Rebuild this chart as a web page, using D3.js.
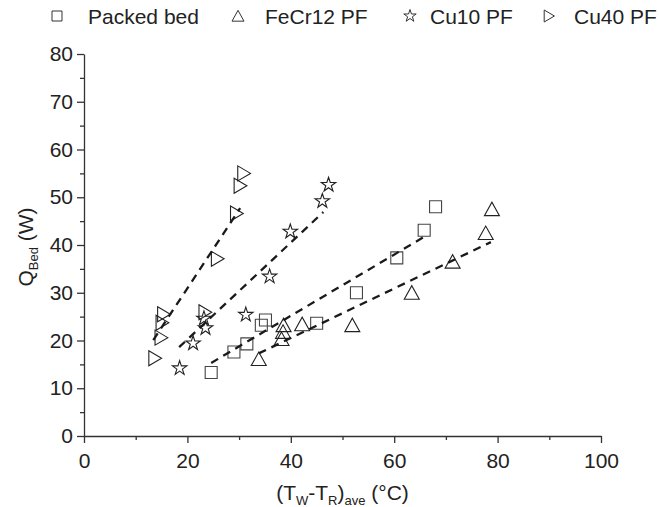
<!DOCTYPE html>
<html>
<head>
<meta charset="utf-8">
<script src="https://cdn.jsdelivr.net/npm/d3@7"></script>
<style>
  body { margin: 0; background: #fff; }
  text { font-family: "Liberation Sans", Arial, sans-serif; fill: #222; }
</style>
</head>
<body>
<div id="chart"></div>
<script>
// data
var packedX = [24.6, 29.0, 31.5, 34.3, 35.1, 45.0, 52.7, 60.5, 65.8, 68.0];
var packedY = [13.3, 17.6, 19.3, 23.2, 24.3, 23.6, 30.0, 37.3, 43.1, 48.0];

var fecrX = [33.8, 38.2, 38.5, 38.6, 42.2, 51.9, 63.4, 71.3, 77.7, 78.9];
var fecrY = [16.1, 20.3, 21.8, 23.2, 23.4, 23.2, 30.0, 36.5, 42.5, 47.5];

var cu10X = [18.5, 21.1, 23.2, 23.5, 31.3, 35.9, 39.9, 46.1, 47.3];
var cu10Y = [14.2, 19.4, 24.6, 22.6, 25.4, 33.4, 42.8, 49.2, 52.6];

var cu40X = [13.7, 14.9, 15.1, 15.4, 23.4, 25.8, 29.5, 30.2, 30.9];
var cu40Y = [16.3, 20.6, 23.7, 25.5, 25.9, 37.1, 46.6, 52.4, 55.0];

// dashed linear fits, end points
var packedFitX = [24.6, 66.4], packedFitY = [15.3, 42.1];
var fecrFitX = [33.8, 78.7], fecrFitY = [17.3, 40.6];
var cu10FitX = [18.4, 46.3], cu10FitY = [18.6, 46.9];
var cu40FitX = [13.4, 30.2], cu40FitY = [20.1, 47.7];

var seriesNames = ["Packed bed", "FeCr12 PF", "Cu10 PF", "Cu40 PF"];
var xTicks = [0, 20, 40, 60, 80, 100];
var xMinor = [10, 30, 50, 70, 90];
var yTicks = [0, 10, 20, 30, 40, 50, 60, 70, 80];
var yMinor = [5, 15, 25, 35, 45, 55, 65, 75];

var margin = {top: 54, right: 58, bottom: 71, left: 84};
var width = 659 - margin.left - margin.right,
    height = 507 - margin.top - margin.bottom;

var svg = d3.select("#chart").append("svg")
    .attr("width", 659)
    .attr("height", 507);

var g = svg.append("g")
    .attr("transform", "translate(" + margin.left + "," + margin.top + ")");

var x = d3.scaleLinear().domain([0, 100]).range([0, width]);
var y = d3.scaleLinear().domain([0, 80]).range([height, 0]);

// marker shapes
function squarePath(s) {
    var h = s / 2;
    return "M" + (-h) + "," + (-h) + "H" + h + "V" + h + "H" + (-h) + "Z";
}
function triUpPath(s) {
    var w = s / 2;
    return "M" + (-w) + "," + (s * 0.43) + "L" + w + "," + (s * 0.43) + "L0," + (-s * 0.47) + "Z";
}
function triRightPath(s) {
    var h = s / 2;
    return "M" + (-s * 0.4) + "," + (-h) + "L" + (-s * 0.4) + "," + h + "L" + (s * 0.45) + ",0Z";
}
function starPath(s) {
    return d3.symbol().type(d3.symbolStar).size(s * s * 0.33)();
}
var shapes = [
    function() { return squarePath(12); },
    function() { return triUpPath(15); },
    function() { return starPath(14); },
    function() { return triRightPath(15); }
];
var legendShapes = [
    function() { return squarePath(10); },
    function() { return triUpPath(12); },
    function() { return starPath(12); },
    function() { return triRightPath(12); }
];

// axes
var axisColor = "#333";
g.append("g")
    .attr("transform", "translate(0," + height + ")")
    .call(d3.axisBottom(x).tickValues(xTicks).tickSize(7).tickSizeOuter(0).tickPadding(10));
g.append("g")
    .attr("transform", "translate(0," + height + ")")
    .call(d3.axisBottom(x).tickValues(xMinor).tickSize(4).tickSizeOuter(0).tickFormat(""))
    .select(".domain").remove();

g.append("g")
    .call(d3.axisLeft(y).tickValues(yTicks).tickSize(7).tickSizeOuter(0).tickPadding(4));
g.append("g")
    .call(d3.axisLeft(y).tickValues(yMinor).tickSize(4).tickSizeOuter(0).tickFormat(""))
    .select(".domain").remove();

g.selectAll(".domain").attr("stroke", axisColor).attr("stroke-width", 1.3);
g.selectAll(".tick line").attr("stroke", axisColor).attr("stroke-width", 1.3);
g.selectAll(".tick text").attr("font-size", 21).attr("fill", "#222")
    .style("font-family", '"Liberation Sans", Arial, sans-serif');

// data markers
var series = [
    {x: packedX, y: packedY, fx: packedFitX, fy: packedFitY},
    {x: fecrX, y: fecrY, fx: fecrFitX, fy: fecrFitY},
    {x: cu10X, y: cu10Y, fx: cu10FitX, fy: cu10FitY},
    {x: cu40X, y: cu40Y, fx: cu40FitX, fy: cu40FitY}
];

series.forEach(function(s, i) {
    var pts = s.x.map(function(v, j) { return [v, s.y[j]]; });
    g.append("g").selectAll("path")
        .data(pts)
        .enter().append("path")
        .attr("d", shapes[i])
        .attr("transform", function(d) { return "translate(" + x(d[0]) + "," + y(d[1]) + ")"; })
        .attr("fill", "none")
        .attr("stroke", i === 0 ? "#444" : "#222")
        .attr("stroke-width", 1.1);
});

// fit lines on top
var line = d3.line()
    .x(function(d) { return x(d[0]); })
    .y(function(d) { return y(d[1]); });

series.forEach(function(s) {
    var fit = s.fx.map(function(v, j) { return [v, s.fy[j]]; });
    g.append("path")
        .datum(fit)
        .attr("d", line)
        .attr("fill", "none")
        .attr("stroke", "#1a1a1a")
        .attr("stroke-width", 2.3)
        .attr("stroke-dasharray", "8,6");
});

// legend
var legendSymX = [57, 238, 410, 549];
var legendTxtX = [88, 265, 430, 574];
var legend = svg.append("g");
seriesNames.forEach(function(name, i) {
    legend.append("path")
        .attr("d", legendShapes[i])
        .attr("transform", "translate(" + legendSymX[i] + ",16)")
        .attr("fill", "none")
        .attr("stroke", "#333")
        .attr("stroke-width", 1);
    legend.append("text")
        .attr("x", legendTxtX[i])
        .attr("y", 24)
        .attr("font-size", 21)
        .text(name);
});

// axis titles
var xt = svg.append("text")
    .attr("x", margin.left + width / 2)
    .attr("y", 500)
    .attr("text-anchor", "middle")
    .attr("font-size", 21);
xt.append("tspan").text("(T");
xt.append("tspan").attr("font-size", 13).attr("dy", 5).text("W");
xt.append("tspan").attr("dy", -5).text("-T");
xt.append("tspan").attr("font-size", 13).attr("dy", 5).text("R");
xt.append("tspan").attr("dy", -5).text(")");
xt.append("tspan").attr("font-size", 13).attr("dy", 5).text("ave");
xt.append("tspan").attr("dy", -5).text(" (°C)");

var yt = svg.append("text")
    .attr("transform", "translate(33," + (margin.top + height / 2 + 2) + ") rotate(-90)")
    .attr("text-anchor", "middle")
    .attr("font-size", 21);
yt.append("tspan").text("Q");
yt.append("tspan").attr("font-size", 13).attr("dy", 5).text("Bed");
yt.append("tspan").attr("dy", -5).text(" (W)");
</script>
</body>
</html>
